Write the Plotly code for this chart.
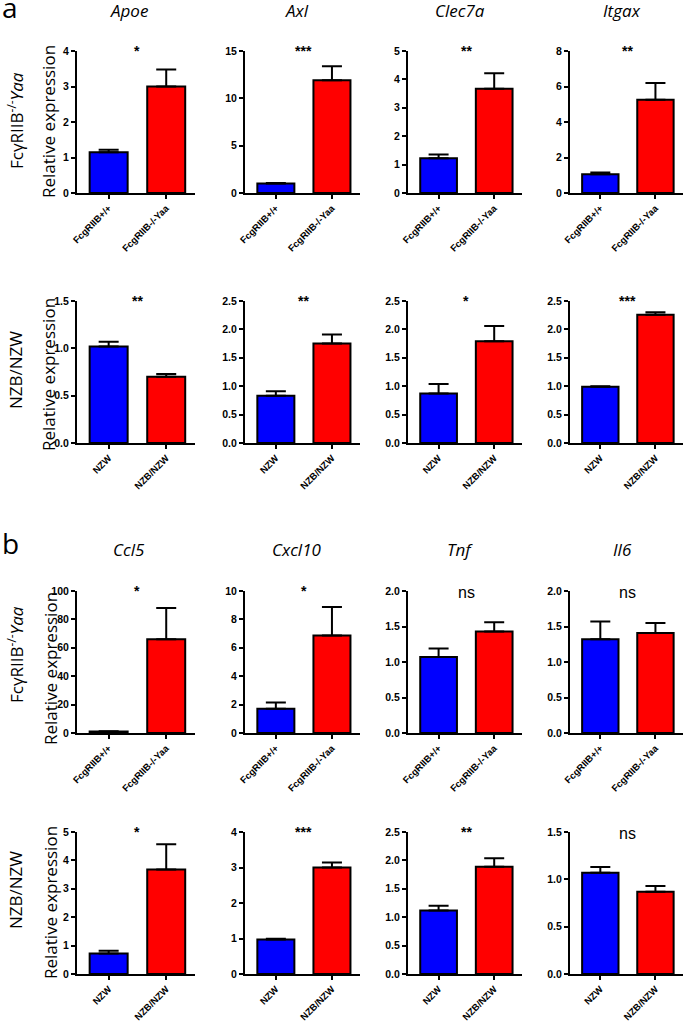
"""
plot.py - relative expression bar panels (a: Apoe/Axl/Clec7a/Itgax, b: Ccl5/Cxcl10/Tnf/Il6)
GraphPad-style bars: mean + upward SEM bar, significance mark on top.
"""

import plotly.graph_objects as go
from plotly.subplots import make_subplots

W, H = 685, 1024

genes_a = ["Apoe", "Axl", "Clec7a", "Itgax"]
genes_b = ["Ccl5", "Cxcl10", "Tnf", "Il6"]

groups_yaa = ["FcgRIIB+/+", "FcgRIIB-/-Yaa"]
groups_nzb = ["NZW", "NZB/NZW"]

# panel a, FcgRIIB-/-Yaa row
yaa_a_mean = [[1.15, 3.0], [1.0, 11.9], [1.22, 3.67], [1.05, 5.25]]
yaa_a_sem = [[0.07, 0.48], [0.06, 1.5], [0.14, 0.55], [0.1, 0.95]]
yaa_a_sig = ["*", "***", "**", "**"]
yaa_a_ymax = [4, 15, 5, 8]
yaa_a_dtick = [1, 5, 1, 2]

# panel a, NZB/NZW row
nzb_a_mean = [[1.02, 0.70], [0.83, 1.75], [0.87, 1.79], [0.99, 2.26]]
nzb_a_sem = [[0.05, 0.03], [0.08, 0.16], [0.17, 0.27], [0.01, 0.04]]
nzb_a_sig = ["**", "**", "*", "***"]
nzb_a_ymax = [1.5, 2.5, 2.5, 2.5]
nzb_a_dtick = [0.5, 0.5, 0.5, 0.5]

# panel b, FcgRIIB-/-Yaa row
yaa_b_mean = [[1.0, 66.0], [1.7, 6.87], [1.07, 1.43], [1.32, 1.41]]
yaa_b_sem = [[0.3, 22.0], [0.45, 2.0], [0.12, 0.13], [0.25, 0.14]]
yaa_b_sig = ["*", "*", "ns", "ns"]
yaa_b_ymax = [100, 10, 2, 2]
yaa_b_dtick = [20, 2, 0.5, 0.5]

# panel b, NZB/NZW row
nzb_b_mean = [[0.72, 3.68], [0.97, 3.0], [1.12, 1.89], [1.07, 0.87]]
nzb_b_sem = [[0.1, 0.89], [0.02, 0.14], [0.08, 0.15], [0.06, 0.06]]
nzb_b_sig = ["*", "***", "**", "ns"]
nzb_b_ymax = [5, 4, 2.5, 1.5]
nzb_b_dtick = [1, 1, 0.5, 0.5]

rows = [
    (groups_yaa, yaa_a_mean, yaa_a_sem, yaa_a_sig, yaa_a_ymax, yaa_a_dtick),
    (groups_nzb, nzb_a_mean, nzb_a_sem, nzb_a_sig, nzb_a_ymax, nzb_a_dtick),
    (groups_yaa, yaa_b_mean, yaa_b_sem, yaa_b_sig, yaa_b_ymax, yaa_b_dtick),
    (groups_nzb, nzb_b_mean, nzb_b_sem, nzb_b_sig, nzb_b_ymax, nzb_b_dtick),
]

BLUE = "#0000FF"
RED = "#FF0000"
TICK_FONT = "Liberation Sans, Arial, sans-serif"
TEXT_FONT = "Open Sans, sans-serif"

# pixel layout of the plot areas (left edge / width per column, top / bottom per row)
col_left = [77, 245, 408, 570]
col_width = [118, 115, 114, 113]
row_top = [51, 301, 591, 832]
row_bottom = [193, 443, 733, 974]


def px_x(p):
    return p / W


def px_y(p):
    return 1 - p / H


fig = make_subplots(rows=4, cols=4)
annotations = []

for r, (groups, means, sems, sigs, ymaxs, dticks) in enumerate(rows):
    for c in range(4):
        n = r * 4 + c + 1
        fig.add_trace(
            go.Bar(
                x=groups,
                y=means[c],
                width=0.66,
                marker=dict(color=[BLUE, RED], line=dict(color="black", width=2)),
                error_y=dict(
                    type="data",
                    array=sems[c],
                    arrayminus=[0, 0],
                    symmetric=False,
                    thickness=2,
                    width=10,
                    color="black",
                ),
                showlegend=False,
                hoverinfo="skip",
            ),
            row=r + 1,
            col=c + 1,
        )
        xname = "xaxis" if n == 1 else f"xaxis{n}"
        yname = "yaxis" if n == 1 else f"yaxis{n}"
        fig.layout[xname].update(
            domain=[px_x(col_left[c]), px_x(col_left[c] + col_width[c])],
            range=[-0.55, 1.5],
            automargin=False,
            showline=True,
            linecolor="black",
            linewidth=2,
            ticks="outside",
            ticklen=4,
            tickwidth=2,
            tickcolor="black",
            tickangle=-45,
            tickfont=dict(family=TICK_FONT, size=9.5, color="black", weight="bold"),
            showgrid=False,
            zeroline=False,
        )
        fig.layout[yname].update(
            domain=[px_y(row_bottom[r]), px_y(row_top[r])],
            range=[0, ymaxs[c]],
            automargin=False,
            dtick=dticks[c],
            tick0=0,
            tickformat=".1f" if dticks[c] < 1 else "d",
            showline=True,
            linecolor="black",
            linewidth=2,
            ticks="outside",
            ticklen=4,
            tickwidth=2,
            tickcolor="black",
            tickfont=dict(family=TICK_FONT, size=10.5, color="black", weight="bold"),
            showgrid=False,
            zeroline=False,
        )
        xref = "x" if n == 1 else f"x{n}"
        yref = "y domain" if n == 1 else f"y{n} domain"
        is_ns = sigs[c] == "ns"
        annotations.append(dict(
            text=sigs[c],
            x=0.5, xref=xref,
            y=0.99 if is_ns else 1.0, yref=yref,
            xanchor="center", yanchor="middle",
            showarrow=False,
            font=dict(family=TICK_FONT, size=16 if is_ns else 14, color="black",
                      weight="normal" if is_ns else "bold"),
        ))


def paper_text(text, xpx, ypx, size, angle=0):
    return dict(
        text=text,
        x=px_x(xpx), xref="paper",
        y=px_y(ypx), yref="paper",
        xanchor="center", yanchor="middle",
        textangle=angle,
        showarrow=False,
        font=dict(family=TEXT_FONT, size=size, color="black"),
    )


# gene titles
for genes, ypx in [(genes_a, 10), (genes_b, 549)]:
    for c, g in enumerate(genes):
        annotations.append(paper_text(f"<i>{g}</i>", col_left[c] + 52, ypx, 17))

# row labels and y titles
row_label_y = [121, 370, 655, 890]
ytitle_y = [122, 375, 668, 902]
ytitle_x = [48, 48, 50, 50]
row_labels = [
    "FcγRIIB<sup>-/-</sup><i>Yaa</i>",
    "NZB/NZW",
    "FcγRIIB<sup>-/-</sup><i>Yaa</i>",
    "NZB/NZW",
]
for r in range(4):
    annotations.append(paper_text(row_labels[r], 15, row_label_y[r], 17, -90))
    annotations.append(paper_text("Relative expression", ytitle_x[r], ytitle_y[r], 17, -90))

# panel letters
annotations.append(paper_text("a", 10, 7, 28))
annotations.append(paper_text("b", 10, 543, 28))

fig.update_layout(
    width=W,
    height=H,
    margin=dict(l=0, r=0, t=0, b=0),
    plot_bgcolor="white",
    paper_bgcolor="white",
    annotations=annotations,
    bargap=0.3,
)

fig.write_html(
    "out.html",
    config={"displayModeBar": False},
    post_script="document.body.style.margin='0px';",
)
